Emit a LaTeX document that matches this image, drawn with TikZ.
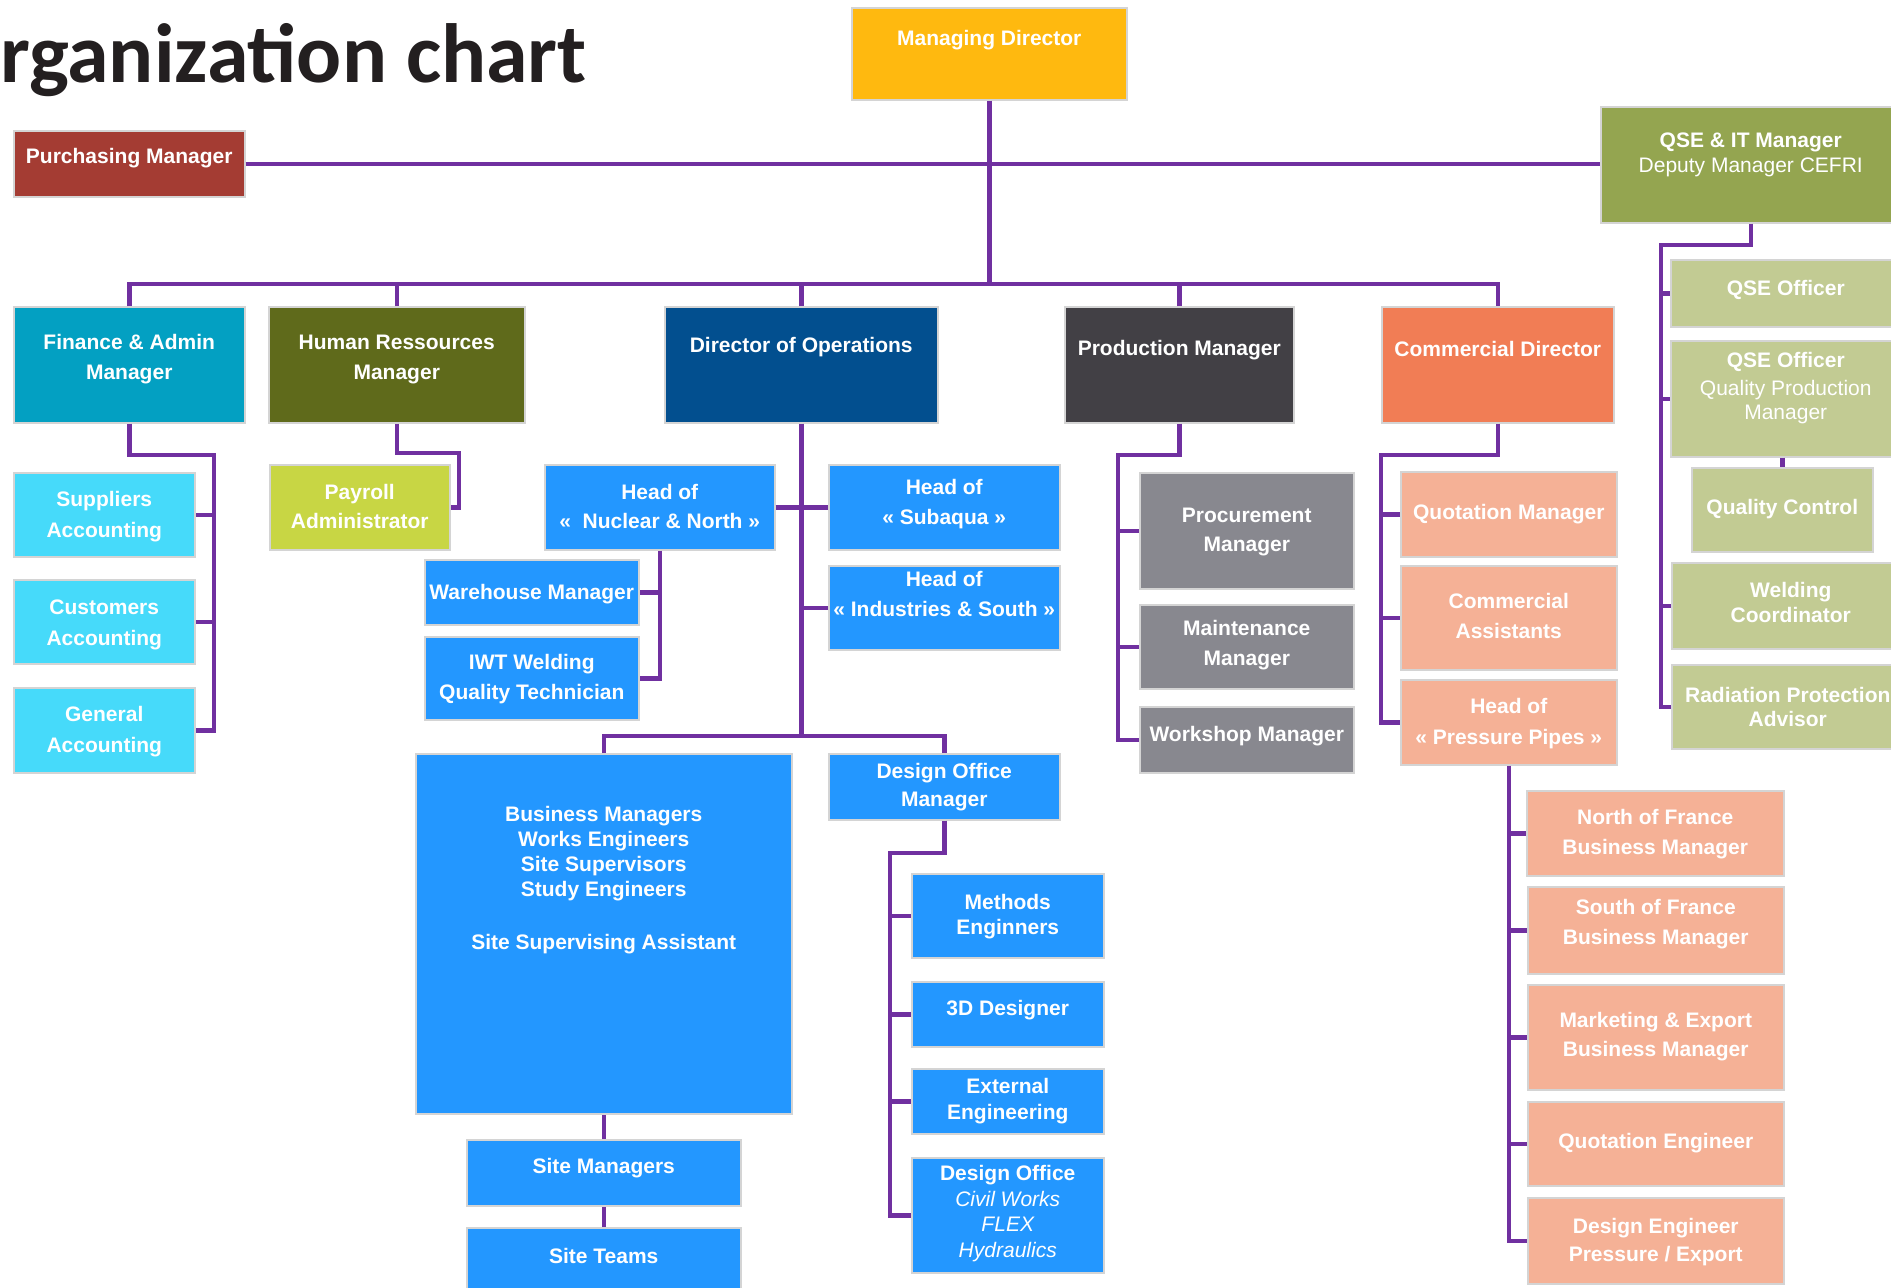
\documentclass[tikz,border=0pt]{standalone}
\usepackage{fontspec}
\setmainfont{Liberation Sans}
\newfontfamily\headfont{Carlito}
\usepackage{tikz}

\definecolor{titleink}{HTML}{231F20}
\definecolor{rim}{HTML}{D4D4D4}
\definecolor{linkpurple}{HTML}{7030A0}
\definecolor{mdgold}{HTML}{FFB90F}
\definecolor{purchred}{HTML}{A43C33}
\definecolor{qseolive}{HTML}{94A550}
\definecolor{qselight}{HTML}{C2CB93}
\definecolor{finteal}{HTML}{03A0C2}
\definecolor{hrolive}{HTML}{5F6A1B}
\definecolor{opsnavy}{HTML}{024F8F}
\definecolor{proddark}{HTML}{424045}
\definecolor{comorange}{HTML}{F17D55}
\definecolor{acccyan}{HTML}{46DAFA}
\definecolor{payyellow}{HTML}{C8D644}
\definecolor{opsblue}{HTML}{2397FF}
\definecolor{prodgray}{HTML}{88888F}
\definecolor{comsalmon}{HTML}{F5B196}

\tikzset{
	txtop/.store in=\celltop, txtop=10,
	txlead/.store in=\celllead, txlead=30,
	orgcell/.style n args={3}{anchor=north west, draw=rim, line width=1.5pt, fill=#3, inner sep=0pt, text=white,
		execute at begin node={\begin{minipage}[c][#2pt][t]{#1pt}\fontsize{21pt}{\celllead pt}\selectfont\bfseries\centering\vspace*{\celltop pt}},
		execute at end node={\end{minipage}}},
	orgline/.style={draw=linkpurple, line width=4.5pt},
}

\begin{document}
\begin{tikzpicture}[x=1pt, y=-1pt]
	\path[use as bounding box, fill=white] (0,0) rectangle (1891,1288);
	\node (title) at (0,82) [anchor=base west, inner sep=0pt, text=titleink, font=\headfont\bfseries\fontsize{84pt}{84pt}\selectfont] {rganization chart};
	\node (md) at (851,7) [orgcell={275}{92}{mdgold}, txtop=23] {Managing Director};
	\node (pur) at (13,130) [orgcell={231}{66}{purchred}, txtop=18] {Purchasing Manager};
	\node (qse) at (1600,106) [orgcell={300}{116}{qseolive}, txtop=26, txlead=25] {QSE \& IT Manager\\{\mdseries Deputy Manager CEFRI}};
		\node (qso1) at (1670,259) [orgcell={230}{67}{qselight}, txtop=21] {QSE Officer};
		\node (qso2) at (1670,340) [orgcell={230}{116}{qselight}, txtop=12, txlead=24] {QSE Officer\\[4pt]{\mdseries Quality Production\\Manager}};
			\node (qc) at (1691,467) [orgcell={181}{84}{qselight}, txtop=32] {Quality Control};
		\node (weld) at (1671,562) [orgcell={238}{86}{qselight}, txtop=20, txlead=25] {Welding\\Coordinator};
		\node (rad) at (1671,664) [orgcell={232}{84}{qselight}, txtop=23, txlead=24] {Radiation Protection\\Advisor};
	\node (fin) at (13,306) [orgcell={231}{116}{finteal}, txtop=28] {Finance \& Admin\\Manager};
		\node (sup) at (13,472) [orgcell={181}{84}{acccyan}, txtop=19, txlead=31] {Suppliers\\Accounting};
		\node (cus) at (13,579) [orgcell={181}{84}{acccyan}, txtop=20, txlead=31] {Customers\\Accounting};
		\node (gen) at (13,687) [orgcell={181}{85}{acccyan}, txtop=19, txlead=31] {General\\Accounting};
	\node (hr) at (268,306) [orgcell={256}{116}{hrolive}, txtop=28] {Human Ressources\\Manager};
		\node (pay) at (269,464) [orgcell={180}{85}{payyellow}, txtop=20, txlead=29] {Payroll\\Administrator};
	\node (ops) at (664,306) [orgcell={273}{116}{opsnavy}, txtop=31] {Director of Operations};
		\node (nuc) at (544,464) [orgcell={230}{85}{opsblue}, txtop=20, txlead=29] {Head of\\«~ Nuclear \& North »};
			\node (wh) at (424,559) [orgcell={214}{65}{opsblue}, txtop=25] {Warehouse Manager};
			\node (iwt) at (424,636) [orgcell={214}{83}{opsblue}, txtop=18] {IWT Welding\\Quality Technician};
		\node (sub) at (828,464) [orgcell={231}{85}{opsblue}, txtop=15] {Head of\\« Subaqua »};
		\node (ind) at (828,565) [orgcell={231}{84}{opsblue}, txtop=6] {Head of\\« Industries \& South »};
		\node (team) at (415,753) [orgcell={376}{360}{opsblue}, txtop=53, txlead=25] {Business Managers\\Works Engineers\\Site Supervisors\\Study Engineers\\[28pt]Site Supervising Assistant};
			\node (sm) at (466,1139) [orgcell={274}{66}{opsblue}, txtop=19] {Site Managers} edge[orgline] (team);
			\node (st) at (466,1227) [orgcell={274}{80}{opsblue}, txtop=21] {Site Teams} edge[orgline] (sm);
		\node (dom) at (828,753) [orgcell={231}{66}{opsblue}, txtop=10, txlead=28] {Design Office\\Manager};
			\node (meth) at (911,873) [orgcell={192}{84}{opsblue}, txtop=21, txlead=25] {Methods\\Enginners};
			\node (d3) at (911,981) [orgcell={192}{65}{opsblue}, txtop=19] {3D Designer};
			\node (ext) at (911,1068) [orgcell={192}{65}{opsblue}, txtop=10, txlead=26] {External\\Engineering};
			\node (dof) at (911,1157) [orgcell={192}{115}{opsblue}, txtop=8, txlead=25.5] {Design Office\\{\mdseries\itshape Civil Works\\FLEX\\Hydraulics}};
	\node (prod) at (1064,306) [orgcell={229}{116}{proddark}, txtop=34] {Production Manager};
		\node (proc) at (1139,472) [orgcell={214}{116}{prodgray}, txtop=35, txlead=29] {Procurement\\Manager};
		\node (mnt) at (1139,604) [orgcell={214}{84}{prodgray}, txtop=16] {Maintenance\\Manager};
		\node (ws) at (1139,706) [orgcell={214}{66}{prodgray}, txtop=20] {Workshop Manager};
	\node (com) at (1381,306) [orgcell={232}{116}{comorange}, txtop=35] {Commercial Director};
		\node (quo) at (1400,471) [orgcell={216}{85}{comsalmon}, txtop=33] {Quotation Manager};
		\node (ast) at (1400,565) [orgcell={216}{104}{comsalmon}, txtop=28] {Commercial\\Assistants};
		\node (pp) at (1400,679) [orgcell={216}{85}{comsalmon}, txtop=19, txlead=31] {Head of\\« Pressure Pipes »};
			\node (nor) at (1526,790) [orgcell={257}{85}{comsalmon}, txtop=19] {North of France\\Business Manager};
			\node (sou) at (1527,886) [orgcell={256}{87}{comsalmon}, txtop=13] {South of France\\Business Manager};
			\node (mkt) at (1527,984) [orgcell={256}{105}{comsalmon}, txtop=28, txlead=29] {Marketing \& Export\\Business Manager};
			\node (qen) at (1527,1101) [orgcell={256}{84}{comsalmon}, txtop=32] {Quotation Engineer};
			\node (den) at (1527,1197) [orgcell={256}{86}{comsalmon}, txtop=21, txlead=28] {Design Engineer\\Pressure / Export};

	\coordinate (bus) at (0,284);
	\coordinate (opsj) at (0,736);
	\coordinate (finj) at (214,455);
	\coordinate (hrj) at (459,453);
	\coordinate (domj) at (890,853);
	\coordinate (prodj) at (1118,455);
	\coordinate (comj) at (1381,455);
	\coordinate (qsej) at (1661,245);

	\draw[orgline] (md.south) -- (md.south |- bus);
	\draw[orgline] (pur.east) -- (pur.east -| qse.west);
	\draw[orgline] (fin.north) |- (com.north |- bus) -- (com.north);
	\foreach \n in {hr,ops,prod}
		\draw[orgline] (\n.north) -- (\n.north |- bus);
	\draw[orgline] (fin.south) |- (finj) |- (gen.east);
	\foreach \n in {sup,cus}
		\draw[orgline] (finj |- \n.east) -- (\n.east);
	\draw[orgline] (hr.south) |- (hrj) |- (pay.east);
	\draw[orgline] (ops.south) -- (ops.south |- opsj);
	\draw[orgline] (team.north) |- (dom.north |- opsj) -- (dom.north);
	\draw[orgline] (nuc.east) -- (sub.west);
	\draw[orgline] (ops.south |- ind.west) -- (ind.west);
	\draw[orgline] (nuc.south) |- (iwt.east);
	\draw[orgline] (nuc.south |- wh.east) -- (wh.east);
	\draw[orgline] (dom.south) |- (domj) |- (dof.west);
	\foreach \n in {meth,d3,ext}
		\draw[orgline] (domj |- \n.west) -- (\n.west);
	\draw[orgline] (prod.south) |- (prodj) |- (ws.west);
	\foreach \n in {proc,mnt}
		\draw[orgline] (prodj |- \n.west) -- (\n.west);
	\draw[orgline] (com.south) |- (comj) |- (pp.west);
	\foreach \n in {quo,ast}
		\draw[orgline] (comj |- \n.west) -- (\n.west);
	\draw[orgline] (pp.south) |- (den.west);
	\foreach \n in {nor,sou,mkt,qen}
		\draw[orgline] (pp.south |- \n.west) -- (\n.west);
	\draw[orgline] (qse.south) |- (qsej) |- (rad.west);
	\foreach \n in {qso1,qso2,weld}
		\draw[orgline] (qsej |- \n.west) -- (\n.west);
	\draw[orgline] (qso2.south -| qc.north) -- (qc.north);
\end{tikzpicture}
\end{document}
